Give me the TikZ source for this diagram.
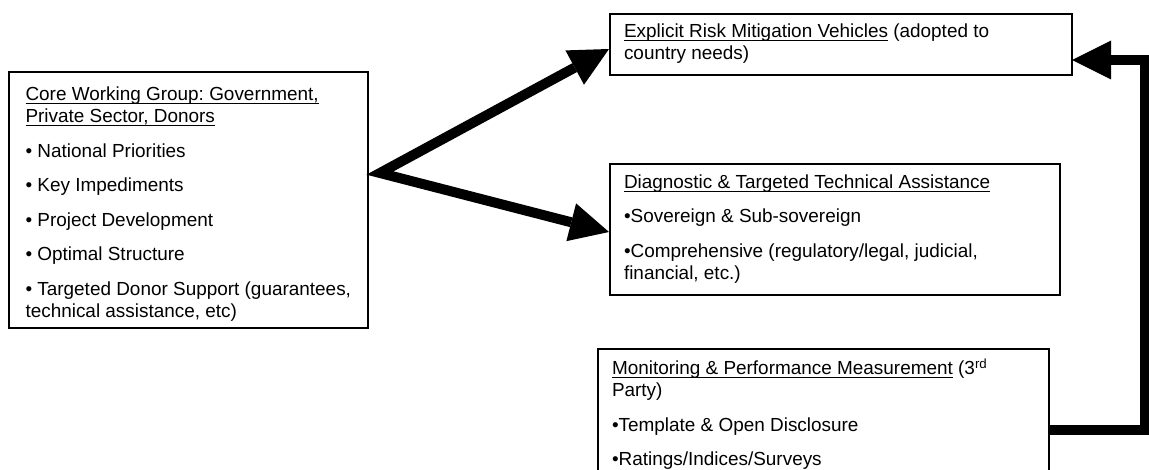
\documentclass[tikz,border=0pt]{standalone}
\usepackage{fontspec}
\setmainfont{Liberation Sans}
\usetikzlibrary{arrows.meta,calc}
\frenchspacing
\newcommand\ulx[1]{\leavevmode\setbox0\hbox{#1}\rlap{\rule[-2.6pt]{\wd0}{0.8pt}}\box0\relax}
\newcommand\firstline{\rule{0pt}{14pt}}
\tikzset{
  bigtip/.tip={Triangle[length=29.25pt,width=29.25pt,line width=0pt]},
  bigarrow/.style={line width=7.5pt, line join=miter, line cap=butt},
  boxnode/.style={draw, line width=0.8pt, inner sep=0pt, outer sep=0pt, anchor=north west},
  txt/.style={inner sep=0pt, outer sep=0pt, anchor=north west, align=left,
    font=\fontsize{14.2pt}{16.3pt}\selectfont\frenchspacing}
}
\begin{document}
\begin{tikzpicture}[x=0.75pt,y=-0.75pt]
\clip (0,0) rectangle (1149,470);
% boxes
\node[boxnode, minimum width=269.25pt, minimum height=192pt] (lbox) at (9,72) {};
\node[boxnode, minimum width=346.5pt, minimum height=45.75pt] (tbox) at (610,14) {};
\node[boxnode, minimum width=337.5pt, minimum height=98.25pt] (mbox) at (610,164) {};
\node[boxnode, minimum width=338.25pt, minimum height=121.5pt] (bbox) at (598,349) {};
% texts
\node[txt] (ltext) at (25.5,82.3) {\firstline\ulx{Core Working Group: Government,}\\
\ulx{Private Sector, Donors}\\[9.6pt]
• National Priorities\\[9.6pt]
• Key Impediments\\[9.6pt]
• Project Development\\[9.6pt]
• Optimal Structure\\[9.6pt]
• Targeted Donor Support (guarantees,\\
technical assistance, etc)};
\node[txt] (ttext) at (624,18.8) {\firstline\ulx{Explicit Risk Mitigation Vehicles} (adopted to\\
country needs)};
\node[txt] (mtext) at (624,169.6) {\firstline\ulx{Diagnostic \& Targeted Technical Assistance}\\[9.6pt]
•Sovereign \& Sub-sovereign\\[9.6pt]
•Comprehensive (regulatory/legal, judicial,\\
financial, etc.)};
\node[txt] (btext) at (612,356.3) {\firstline\ulx{Monitoring \& Performance Measurement} (3\textsuperscript{rd}\\
Party)\\[9.6pt]
•Template \& Open Disclosure\\[9.6pt]
•Ratings/Indices/Surveys};
% connectors
\coordinate (jn) at ($(lbox.east)+(12,-27)$);
\draw[bigarrow, bigtip-bigtip] ($(tbox.west)+(-1,4.5)$) -- (jn) -- ($(mbox.west)+(-1,2.5)$);
\coordinate (rc) at (1145,60);
\draw[bigarrow, -bigtip] (bbox.east) -| (rc) -- ($(tbox.east)+(0,15.5)$);
\end{tikzpicture}
\end{document}
